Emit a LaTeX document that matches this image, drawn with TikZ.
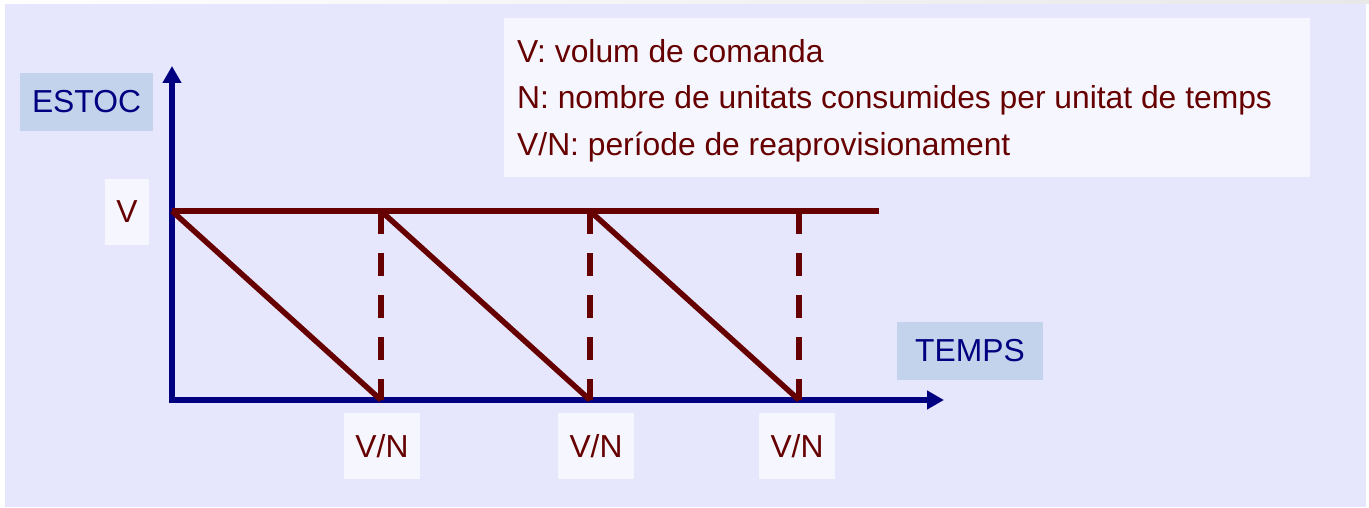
\documentclass[tikz,border=0pt]{standalone}
\usepackage{fontspec}
\setmainfont{Liberation Sans}
\usetikzlibrary{arrows.meta}
\definecolor{bglav}{HTML}{E6E6FD}
\definecolor{lblblue}{HTML}{C4D3EC}
\definecolor{boxwhite}{HTML}{F6F6FE}
\definecolor{navy}{HTML}{000080}
\definecolor{dred}{HTML}{660000}
\tikzset{
  txt/.style={font=\fontsize{31.8}{36}\selectfont, inner sep=0pt},
  bluebox/.style={txt, fill=lblblue, text=navy},
  whitebox/.style={txt, fill=boxwhite, text=dred},
  axis/.style={draw=navy, line width=5.5pt, line join=miter},
  stock/.style={draw=dred, line width=5.5pt},
  guide/.style={draw=dred, line width=5.5pt, dash pattern=on 23pt off 19pt},
  legtext/.style={txt, text=dred, anchor=base west}
}
\begin{document}
\begin{tikzpicture}[x=1pt,y=-1pt]
\useasboundingbox (0,0) rectangle (1369,508);
\fill[white] (0,0) rectangle (1369,508);
\shade[left color=white, right color=black!9] (0,0) rectangle (1369,4);
\fill[bglav] (5,4) rectangle (1366,507);

% legend
\node[fill=boxwhite, inner sep=0pt, minimum width=806pt, minimum height=159pt, anchor=north west] (legend) at (504,18) {};
\node[legtext] (l1) at (517,63) {V: volum de comanda};
\node[legtext] (l2) at (517,109) {N: nombre de unitats consumides per unitat de temps};
\node[legtext] (l3) at (517,156) {V/N: període de reaprovisionament};

% labels
\node[bluebox, minimum width=133pt, minimum height=58pt] (estoc) at (86.5,102) {ESTOC};
\node[bluebox, minimum width=146pt, minimum height=58pt] (temps) at (970,351) {TEMPS};
\node[whitebox, minimum width=44pt, minimum height=66pt] (vlab) at (127,212) {V};
\node[whitebox, minimum width=76pt, minimum height=66pt] (vn1) at (382,446) {V/N};
\node[whitebox, minimum width=76pt, minimum height=66pt] (vn2) at (596,446) {V/N};
\node[whitebox, minimum width=76pt, minimum height=66pt] (vn3) at (797,446) {V/N};

% coordinates
\coordinate (O) at (172,400);
\coordinate (ytip) at (172,66);
\coordinate (xtip) at (944,400);
\coordinate (V0) at (172,211);
\coordinate (Vend) at (879,211);
\coordinate (t1) at (381,211);
\coordinate (t2) at (590,211);
\coordinate (t3) at (799,211);
\coordinate (b1) at (381,400);
\coordinate (b2) at (590,400);
\coordinate (b3) at (799,400);

% axes
\draw[axis, {Triangle[width=18pt,length=17pt]}-{Triangle[width=18pt,length=17pt]}] (ytip) -- (O) -- (xtip);

% stock lines
\draw[stock] (V0) -- (Vend);
\draw[stock] (V0) -- (b1);
\draw[stock] (t1) -- (b2);
\draw[stock] (t2) -- (b3);
\draw[guide] (t1) -- (b1);
\draw[guide] (t2) -- (b2);
\draw[guide] (t3) -- (b3);
\end{tikzpicture}
\end{document}
